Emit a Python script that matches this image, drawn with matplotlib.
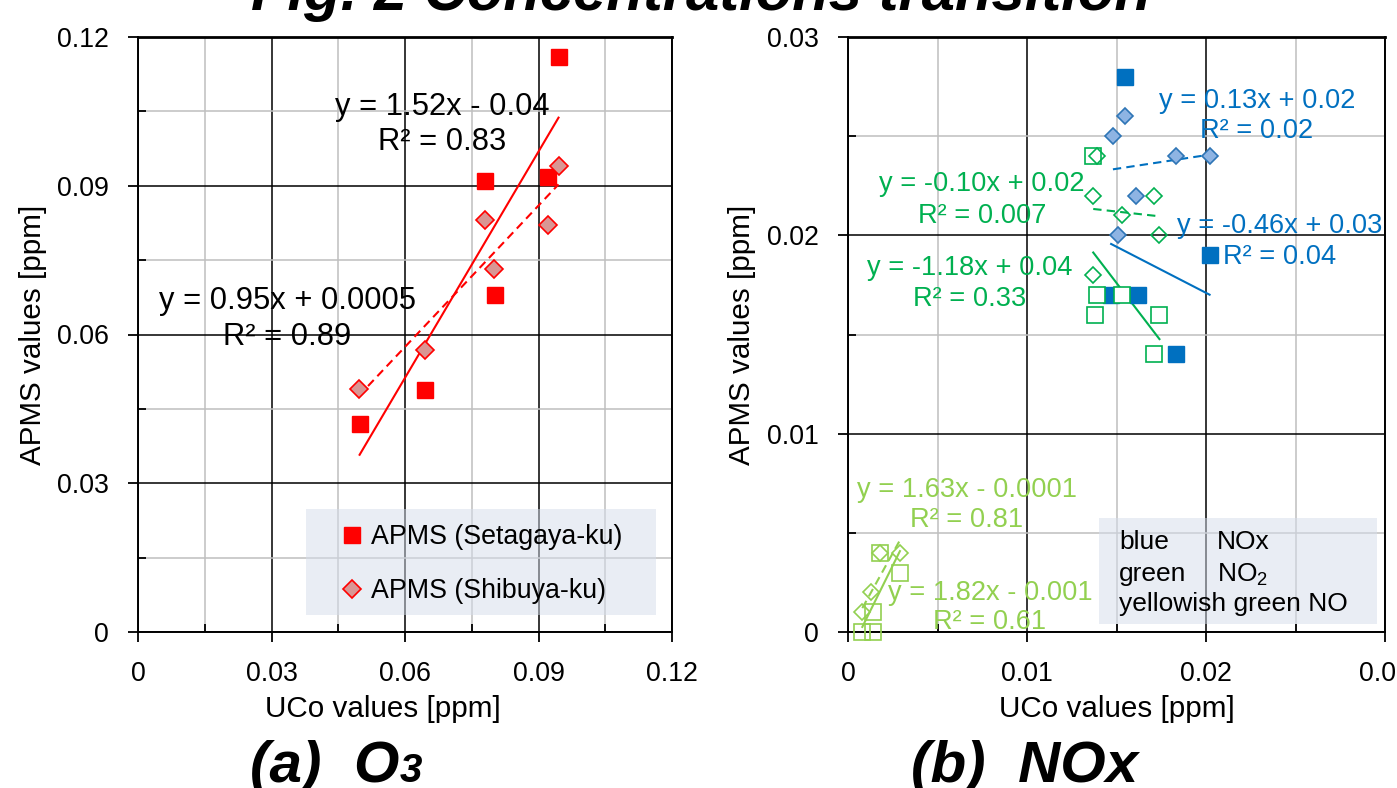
import matplotlib
matplotlib.use('Agg')
import matplotlib.pyplot as plt
import numpy as np
from matplotlib.lines import Line2D
from matplotlib.patches import Rectangle

plt.rcParams['font.family'] = ['Liberation Sans', 'DejaVu Sans']
plt.rcParams['mathtext.fontset'] = 'custom'
plt.rcParams['mathtext.rm'] = 'Liberation Sans'

# ---------------- data (a) O3 ----------------
o3_set_x = [0.0498, 0.0645, 0.0780, 0.0803, 0.0922, 0.0945]
o3_set_y = [0.0419, 0.0489, 0.0909, 0.0680, 0.0918, 0.1160]
o3_shi_x = [0.0496, 0.0645, 0.0780, 0.0801, 0.0922, 0.0945]
o3_shi_y = [0.0490, 0.0568, 0.0830, 0.0732, 0.0821, 0.0940]
o3_fit_set = [1.521, -0.0400]
o3_fit_shi = [0.95, 0.0005]
o3_eq_set = ["y = 1.52x - 0.04", "R² = 0.83"]
o3_eq_shi = ["y = 0.95x + 0.0005", "R² = 0.89"]
o3_legend = ["APMS (Setagaya-ku)", "APMS (Shibuya-ku)"]
o3_ticks = [0, 0.03, 0.06, 0.09, 0.12]
o3_tick_labels = ["0", "0.03", "0.06", "0.09", "0.12"]

# ---------------- data (b) NOx ----------------
nox_set_x = [0.0155, 0.0147, 0.0162, 0.0183, 0.0202]
nox_set_y = [0.0280, 0.0170, 0.0170, 0.0140, 0.0190]
nox_shi_x = [0.0155, 0.0148, 0.0183, 0.0202, 0.0161, 0.0151]
nox_shi_y = [0.0260, 0.0250, 0.0240, 0.0240, 0.0220, 0.0200]
no2_set_x = [0.0137, 0.0139, 0.0153, 0.0138, 0.0174, 0.0171]
no2_set_y = [0.0240, 0.0170, 0.0170, 0.0160, 0.0160, 0.0140]
no2_shi_x = [0.0139, 0.0137, 0.0171, 0.0153, 0.0174, 0.0137]
no2_shi_y = [0.0240, 0.0220, 0.0220, 0.0210, 0.0200, 0.0180]
no_set_x = [0.0018, 0.0029, 0.0014, 0.0008, 0.0014]
no_set_y = [0.0040, 0.0030, 0.0010, 0.0000, 0.0000]
no_shi_x = [0.0018, 0.0029, 0.0013, 0.0008]
no_shi_y = [0.0040, 0.0040, 0.0020, 0.0010]
nox_fit_set = [-0.465, 0.0264]
nox_fit_shi = [0.137, 0.0213]
no2_fit_set = [-1.18, 0.0353]
no2_fit_shi = [-0.10, 0.0227]
no_fit_set = [1.82, -0.0012]
no_fit_shi = [1.63, -0.0001]
nox_eq_set = ["y = -0.46x + 0.03", "R² = 0.04"]
nox_eq_shi = ["y = 0.13x + 0.02", "R² = 0.02"]
no2_eq_set = ["y = -1.18x + 0.04", "R² = 0.33"]
no2_eq_shi = ["y = -0.10x + 0.02", "R² = 0.007"]
no_eq_set = ["y = 1.82x - 0.001", "R² = 0.61"]
no_eq_shi = ["y = 1.63x - 0.0001", "R² = 0.81"]
nox_ticks = [0, 0.01, 0.02, 0.03]
nox_tick_labels = ["0", "0.01", "0.02", "0.03"]
key_names = ["blue", "green", "yellowish green NO"]
key_species = ["NOx", "NO$_2$", ""]

RED = '#FF0000'
PINK = '#D99694'
BLUE = '#0070C0'
LBLUE = '#8EB4E3'
GREEN = '#00B050'
YGREEN = '#92D050'

W, H = 1397, 788
fig = plt.figure(figsize=(W / 100, H / 100), dpi=100)
axL = fig.add_axes([138 / W, 1 - 632 / H, 534 / W, 595 / H])
axR = fig.add_axes([848 / W, 1 - 632 / H, 537 / W, 595 / H])

TICK_FS = 19.3
LAB_FS = 21.3


def setup(ax, ticks, labels, minor_step, xlab_x):
    ax.set_xlim(ticks[0], ticks[-1])
    ax.set_ylim(ticks[0], ticks[-1])
    ax.set_xticks(ticks)
    ax.set_yticks(ticks)
    ax.set_xticklabels(labels)
    ax.set_yticklabels(labels)
    minors = [t + minor_step for t in ticks[:-1]]
    ax.set_xticks(minors, minor=True)
    ax.set_yticks(minors, minor=True)
    ax.grid(which='minor', color='#BFBFBF', lw=1.1)
    ax.grid(which='major', color='black', lw=1.1)
    ax.set_axisbelow(True)
    ax.tick_params(which='major', direction='out', length=7, width=1.3,
                   labelsize=TICK_FS, pad=14, colors='black')
    ax.tick_params(which='minor', direction='in', length=6, width=1.3)
    for s in ax.spines.values():
        s.set_linewidth(1.4)
    ax.spines['top'].set_linewidth(2.0)
    ax.set_xlabel("UCo values [ppm]", fontsize=LAB_FS)
    ax.set_ylabel("APMS values [ppm]", fontsize=LAB_FS)
    ax.xaxis.label.set_va('center')
    ax.yaxis.label.set_va('center')
    ax.xaxis.set_label_coords(xlab_x, -0.129)
    ax.yaxis.set_label_coords(-0.197, 0.5)


def trend(ax, xs, fit, color, ls):
    xx = np.array([min(xs), max(xs)])
    ax.plot(xx, fit[0] * xx + fit[1], color=color, lw=1.5, ls=ls, zorder=3,
            dashes=(4, 2.5) if ls == '--' else (None, None))


def eq(ax, x, y1, y2, lines, color, fs):
    ax.text(x, y1, lines[0], ha='center', va='baseline', fontsize=fs, color=color, zorder=6)
    ax.text(x, y2, lines[1], ha='center', va='baseline', fontsize=fs, color=color, zorder=6)


# ---------------- (a) ----------------
setup(axL, o3_ticks, o3_tick_labels, 0.015, 0.459)
trend(axL, o3_set_x, o3_fit_set, RED, '-')
trend(axL, o3_shi_x, o3_fit_shi, RED, '--')
axL.plot(o3_set_x, o3_set_y, ls='none', marker='s', ms=11.3, mfc=RED, mec=RED, zorder=4)
axL.plot(o3_shi_x, o3_shi_y, ls='none', marker='D', ms=8.8, mfc=PINK, mec=RED, mew=1.2, zorder=4)
eq(axL, 0.0683, 0.1043, 0.0972, o3_eq_set, 'black', 22.2)
eq(axL, 0.0335, 0.0651, 0.0579, o3_eq_shi, 'black', 22.2)
axL.add_patch(Rectangle((0.3146, 0.0286), 0.6554, 0.178, transform=axL.transAxes,
                        facecolor='#D5DDEB', alpha=0.5, edgecolor='none', zorder=2))
h1 = Line2D([], [], ls='none', marker='s', ms=11.3, mfc=RED, mec=RED)
h2 = Line2D([], [], ls='none', marker='D', ms=8.8, mfc=PINK, mec=RED, mew=1.2)
axL.legend([h1, h2], o3_legend, loc='upper left', bbox_to_anchor=(0.381, 0.181),
           frameon=False, fontsize=19.3, handlelength=0.8, handletextpad=0.3,
           labelspacing=1.05, borderpad=0, borderaxespad=0)

# ---------------- (b) ----------------
setup(axR, nox_ticks, nox_tick_labels, 0.005, 0.5)
trend(axR, nox_set_x, nox_fit_set, BLUE, '-')
trend(axR, nox_shi_x, nox_fit_shi, BLUE, '--')
trend(axR, no2_set_x, no2_fit_set, GREEN, '-')
trend(axR, no2_shi_x, no2_fit_shi, GREEN, '--')
trend(axR, no_set_x, no_fit_set, YGREEN, '-')
trend(axR, no_shi_x, no_fit_shi, YGREEN, '--')
axR.plot(nox_set_x, nox_set_y, ls='none', marker='s', ms=11.3, mfc=BLUE, mec=BLUE, zorder=4)
axR.plot(nox_shi_x, nox_shi_y, ls='none', marker='D', ms=8.3, mfc=LBLUE, mec='#2E75B6', mew=1.2, zorder=4)
axR.plot(no2_set_x, no2_set_y, ls='none', marker='s', ms=11.0, mfc='white', mec=GREEN, mew=1.2, zorder=4)
axR.plot(no2_shi_x, no2_shi_y, ls='none', marker='D', ms=8.3, mfc='none', mec=GREEN, mew=1.2, zorder=4)
axR.plot(no_set_x, no_set_y, ls='none', marker='s', ms=11.0, mfc='none', mec=YGREEN, mew=1.2, zorder=4, clip_on=False)
axR.plot(no_shi_x, no_shi_y, ls='none', marker='D', ms=8.3, mfc='none', mec=YGREEN, mew=1.2, zorder=4, clip_on=False)

RFS = 19.6
eq(axR, 0.02285, 0.02642, 0.02491, nox_eq_shi, BLUE, RFS)
eq(axR, 0.02413, 0.02012, 0.01856, nox_eq_set, BLUE, RFS)
eq(axR, 0.00749, 0.02224, 0.02063, no2_eq_shi, GREEN, RFS)
eq(axR, 0.00682, 0.01800, 0.01644, no2_eq_set, GREEN, RFS)
eq(axR, 0.00665, 0.00683, 0.00530, no_eq_shi, YGREEN, RFS)
eq(axR, 0.00793, 0.00161, 0.00015, no_eq_set, YGREEN, RFS)

axR.add_patch(Rectangle((0.4674, 0.0134), 0.5176, 0.1782, transform=axR.transAxes,
                        facecolor='#D5DDEB', alpha=0.5, edgecolor='none', zorder=2))
key_y = [0.00419, 0.00257, 0.00108]
for name, sp, yy in zip(key_names, key_species, key_y):
    axR.text(0.01514, yy, name, fontsize=19, va='baseline', ha='left', zorder=6)
    if sp:
        axR.text(0.0206, yy, sp, fontsize=19, va='baseline', ha='left', zorder=6)

# ---------------- titles ----------------
fig.text(0.502, 1 - 10 / H, "Fig. 2 Concentrations transition", ha='center', va='baseline',
         fontsize=43, fontweight='bold', fontstyle='italic')

cap_y = 1 - 782 / H
capA = fig.text(250 / W, cap_y, "(a)  O", ha='left', va='baseline',
                fontsize=42, fontweight='bold', fontstyle='italic')
fig.text(1025 / W, cap_y, "(b)  NOx", ha='center', va='baseline',
         fontsize=42, fontweight='bold', fontstyle='italic')
fig.canvas.draw()
bb = capA.get_window_extent(renderer=fig.canvas.get_renderer())
fig.text(bb.x1 / W, cap_y, "3", ha='left', va='baseline',
         fontsize=29, fontweight='bold', fontstyle='italic')

fig.savefig('out.png', dpi=100)
